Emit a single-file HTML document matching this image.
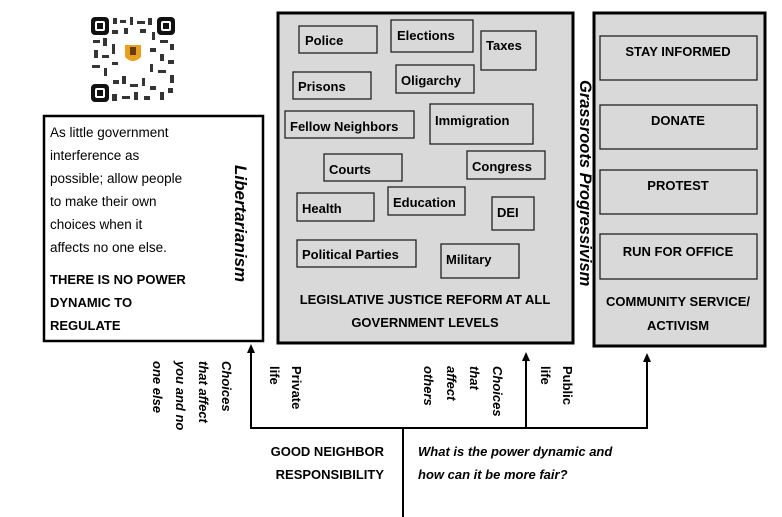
<!DOCTYPE html>
<html><head><meta charset="utf-8"><style>
html,body{margin:0;padding:0;background:#fff}
svg{display:block}
text{font-family:"Liberation Sans",sans-serif}
.b{font-weight:bold;font-size:13px}
.n{font-size:13.5px}
.bi{font-weight:bold;font-style:italic;font-size:13px}
</style></head><body>
<svg width="782" height="517" viewBox="0 0 782 517" xmlns="http://www.w3.org/2000/svg">
<!-- QR -->
<g fill="#111">
<rect x="91" y="17" width="84" height="85" fill="#fff"/>
<rect x="91" y="17" width="18" height="18" rx="4"/><rect x="95" y="21" width="10" height="10" rx="2" fill="#fff"/><rect x="97" y="23" width="6" height="6"/>
<rect x="157" y="17" width="18" height="18" rx="4"/><rect x="161" y="21" width="10" height="10" rx="2" fill="#fff"/><rect x="163" y="23" width="6" height="6"/>
<rect x="91" y="84" width="18" height="18" rx="4"/><rect x="95" y="88" width="10" height="10" rx="2" fill="#fff"/><rect x="97" y="90" width="6" height="6"/>
<g opacity="0.85">
<rect x="113" y="18" width="4" height="6"/><rect x="120" y="20" width="6" height="3"/><rect x="130" y="17" width="3" height="8"/><rect x="137" y="21" width="8" height="3"/><rect x="148" y="18" width="4" height="7"/>
<rect x="93" y="40" width="7" height="3"/><rect x="103" y="38" width="4" height="8"/><rect x="112" y="30" width="6" height="4"/><rect x="124" y="28" width="4" height="6"/><rect x="140" y="29" width="6" height="4"/><rect x="152" y="32" width="3" height="8"/><rect x="160" y="40" width="8" height="3"/><rect x="170" y="44" width="4" height="6"/>
<rect x="94" y="50" width="4" height="8"/><rect x="102" y="55" width="7" height="3"/><rect x="112" y="44" width="3" height="10"/><rect x="150" y="48" width="6" height="4"/><rect x="160" y="54" width="4" height="7"/><rect x="168" y="60" width="6" height="4"/>
<rect x="92" y="65" width="8" height="3"/><rect x="104" y="68" width="3" height="8"/><rect x="112" y="62" width="6" height="3"/><rect x="150" y="64" width="3" height="8"/><rect x="158" y="70" width="8" height="3"/><rect x="170" y="75" width="4" height="8"/>
<rect x="113" y="80" width="6" height="4"/><rect x="122" y="76" width="4" height="8"/><rect x="130" y="84" width="8" height="3"/><rect x="142" y="78" width="3" height="8"/><rect x="150" y="86" width="6" height="4"/><rect x="160" y="92" width="4" height="8"/><rect x="168" y="88" width="5" height="5"/>
<rect x="112" y="94" width="5" height="7"/><rect x="122" y="96" width="8" height="3"/><rect x="134" y="92" width="4" height="8"/><rect x="144" y="96" width="6" height="4"/>
</g>
<path d="M125 45 h16 v12 q-8 8 -16 0z" fill="#e8a020"/><rect x="130" y="47" width="6" height="8" fill="#6a3a10"/>
</g>
<!-- Left box -->
<rect x="44" y="116" width="219" height="225" fill="#fff" stroke="#000" stroke-width="2.5"/>
<g class="n" fill="#000">
<text x="50" y="137">As little government</text>
<text x="50" y="160">interference as</text>
<text x="50" y="183">possible; allow people</text>
<text x="50" y="206">to make their own</text>
<text x="50" y="229">choices when it</text>
<text x="50" y="252">affects no one else.</text>
</g>
<g class="b"><text x="50" y="284">THERE IS NO POWER</text><text x="50" y="307">DYNAMIC TO</text><text x="50" y="330">REGULATE</text></g>
<text class="bi" transform="translate(235,165) rotate(90)" style="font-size:17px">Libertarianism</text>
<!-- Middle box -->
<rect x="278" y="13" width="295" height="330" fill="#d9d9d9" stroke="#000" stroke-width="3"/>
<g fill="none" stroke="#222" stroke-width="1.3">
<rect x="299" y="26" width="78" height="27"/><rect x="391" y="20" width="82" height="32"/><rect x="481" y="31" width="55" height="39"/>
<rect x="293" y="72" width="78" height="27"/><rect x="396" y="65" width="78" height="28"/>
<rect x="285" y="111" width="129" height="27"/><rect x="430" y="104" width="103" height="40"/>
<rect x="324" y="154" width="78" height="27"/><rect x="467" y="151" width="78" height="28"/>
<rect x="297" y="193" width="77" height="28"/><rect x="388" y="187" width="77" height="28"/><rect x="492" y="197" width="42" height="33"/>
<rect x="297" y="240" width="119" height="27"/><rect x="441" y="244" width="78" height="34"/>
</g>
<g class="b">
<text x="305" y="45">Police</text><text x="397" y="40">Elections</text><text x="486" y="50">Taxes</text>
<text x="298" y="91">Prisons</text><text x="401" y="85">Oligarchy</text>
<text x="290" y="131">Fellow Neighbors</text><text x="435" y="125">Immigration</text>
<text x="329" y="174">Courts</text><text x="472" y="171">Congress</text>
<text x="302" y="213">Health</text><text x="393" y="207">Education</text><text x="497" y="217">DEI</text>
<text x="302" y="259">Political Parties</text><text x="446" y="264">Military</text>
<text x="425" y="304" text-anchor="middle">LEGISLATIVE JUSTICE REFORM AT ALL</text>
<text x="425" y="327" text-anchor="middle">GOVERNMENT LEVELS</text>
</g>
<text class="bi" transform="translate(580,80) rotate(90)" style="font-size:16.5px">Grassroots Progressivism</text>
<!-- Right box -->
<rect x="594" y="13" width="171" height="333" fill="#d9d9d9" stroke="#000" stroke-width="3"/>
<g fill="none" stroke="#222" stroke-width="1.3">
<rect x="600" y="36" width="157" height="44"/><rect x="600" y="105" width="157" height="44"/>
<rect x="600" y="170" width="157" height="44"/><rect x="600" y="234" width="157" height="45"/>
</g>
<g class="b" text-anchor="middle">
<text x="678" y="56">STAY INFORMED</text><text x="678" y="125">DONATE</text><text x="678" y="190">PROTEST</text><text x="678" y="256">RUN FOR OFFICE</text>
<text x="678" y="306">COMMUNITY SERVICE/</text><text x="678" y="330">ACTIVISM</text>
</g>
<!-- Connectors -->
<g stroke="#000" stroke-width="2" fill="none">
<path d="M251 352 V428 H647 V360"/><path d="M526 360 V428"/><path d="M403 428 V517"/>
</g>
<g fill="#000">
<path d="M247 353 L251 344 L255 353z"/><path d="M522 361 L526 352 L530 361z"/><path d="M643 362 L647 353 L651 362z"/>
</g>
<g class="bi">
<text transform="translate(222,361) rotate(90)">Choices</text>
<text transform="translate(199,361) rotate(90)">that affect</text>
<text transform="translate(176,361) rotate(90)">you and no</text>
<text transform="translate(153,361) rotate(90)">one else</text>
<text transform="translate(493,366) rotate(90)">Choices</text>
<text transform="translate(470,366) rotate(90)">that</text>
<text transform="translate(447,366) rotate(90)">affect</text>
<text transform="translate(424,366) rotate(90)">others</text>
</g>
<g class="b">
<text transform="translate(292,366) rotate(90)">Private</text>
<text transform="translate(270,366) rotate(90)">life</text>
<text transform="translate(563,366) rotate(90)">Public</text>
<text transform="translate(541,366) rotate(90)">life</text>
<text x="384" y="456" text-anchor="end">GOOD NEIGHBOR</text>
<text x="384" y="479" text-anchor="end">RESPONSIBILITY</text>
</g>
<g class="bi"><text x="418" y="456">What is the power dynamic and</text><text x="418" y="479">how can it be more fair?</text></g>
</svg>
</body></html>
